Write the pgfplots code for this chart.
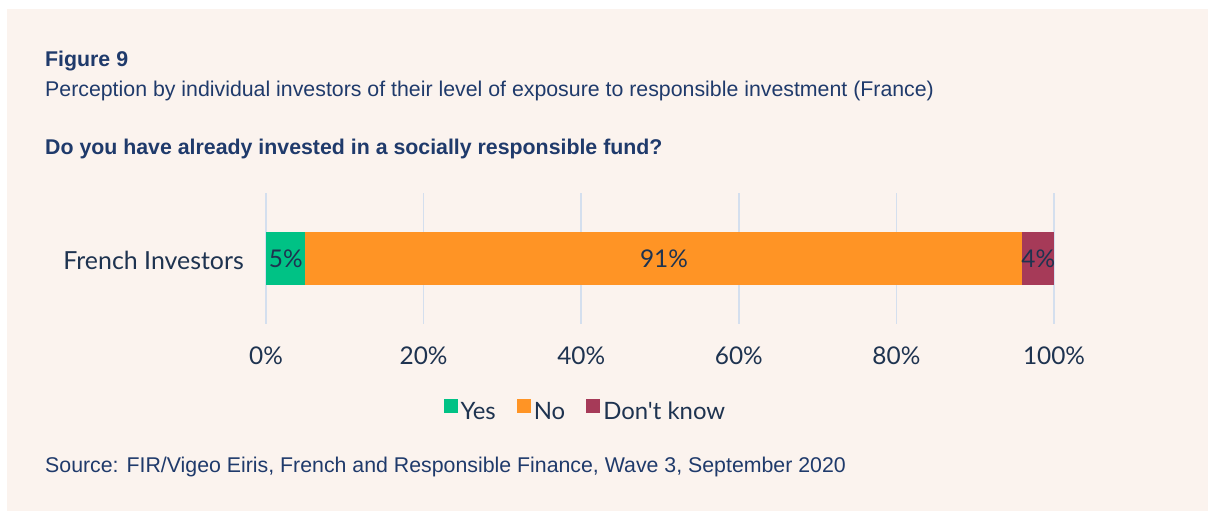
\documentclass[border=0pt]{standalone}
\usepackage{pgfplots}
\pgfplotsset{compat=1.18}
\usepackage{pgfplotstable}
\usepackage{fontspec}
\setmainfont{Liberation Sans}
\newfontfamily\chartfont{Lato}

\definecolor{panel}{HTML}{FBF3EE}
\definecolor{headnavy}{HTML}{1F3A6B}
\definecolor{inknavy}{HTML}{1E3350}
\definecolor{gridblue}{HTML}{D4DFEE}
\definecolor{yesgreen}{HTML}{00C285}
\definecolor{noorange}{HTML}{FF9425}
\definecolor{dkmaroon}{HTML}{A63A58}

% share of individual investors (percent)
\pgfplotstableread{
cat yes no dk
1   5   91 4
}\survey

\begin{document}
\begin{tikzpicture}[x=1bp,y=1bp]
\useasboundingbox (0,0) rectangle (1208,511);
\fill[white] (0,0) rectangle (1208,511);
\fill[panel] (7,0) rectangle (1208,502);

\node[anchor=base west, inner sep=0, text=headnavy,
      font=\bfseries\fontsize{21.4}{24}\selectfont] at (45,444) {Figure 9};
\node[anchor=base west, inner sep=0, text=headnavy,
      font=\fontsize{21.4}{24}\selectfont] at (45,414)
      {Perception by individual investors of their level of exposure to responsible investment (France)};
\node[anchor=base west, inner sep=0, text=headnavy,
      font=\bfseries\fontsize{21.4}{24}\selectfont] at (45,356)
      {Do you have already invested in a socially responsible fund?};
\node[anchor=base west, inner sep=0, text=headnavy,
      font=\fontsize{21.4}{24}\selectfont] at (45,38)
      {Source: FIR/Vigeo Eiris, French and Responsible Finance, Wave 3, September 2020};

\begin{axis}[
  at={(266bp,187bp)}, anchor=south west, scale only axis,
  width=788bp, height=131bp,
  xmin=0, xmax=100, ymin=0, ymax=2,
  xbar stacked, bar width=53bp,
  axis line style={draw=none}, major tick length=0pt,
  xmajorgrids, grid style={gridblue, line width=1.6bp},
  xtick={0,20,...,100},
  xticklabel={\pgfmathprintnumber{\tick}\%},
  /pgf/number format/assume math mode=true,
  xticklabel style={anchor=base, yshift=-41bp, inner sep=0pt,
                    font=\chartfont\fontsize{24.5}{28}\selectfont, text=inknavy},
  ytick={1}, yticklabels={French Investors},
  yticklabel style={anchor=east, inner sep=0pt, xshift=-22bp, yshift=-1.5bp,
                    font=\chartfont\fontsize{25}{28}\selectfont, text=inknavy},
  nodes near coords={\pgfmathprintnumber{\rawv}\%},
  nodes near coords style={anchor=center, inner sep=0pt, text=inknavy,
                           font=\chartfont\fontsize{24.5}{28}\selectfont},
  legend columns=3,
  legend style={at={(0.404,-0.656)}, anchor=center, draw=none, fill=none,
                font=\chartfont\fontsize{24}{26}\selectfont, text=inknavy,
                inner sep=0pt, nodes={inner sep=0pt},
                /tikz/every odd column/.append style={column sep=3bp},
                /tikz/every even column/.append style={column sep=21bp}},
  legend image code/.code={\fill[#1,draw=none] (0bp,-1bp) rectangle (14bp,13bp);},
]
\addplot[fill=yesgreen, draw=none, visualization depends on={\thisrow{yes} \as \rawv}]
  table[x=yes, y=cat] {\survey};
\addlegendentry{Yes}
\addplot[fill=noorange, draw=none, visualization depends on={\thisrow{no} \as \rawv}]
  table[x=no, y=cat] {\survey};
\addlegendentry{No}
\addplot[fill=dkmaroon, draw=none, visualization depends on={\thisrow{dk} \as \rawv}]
  table[x=dk, y=cat] {\survey};
\addlegendentry{Don't know}
\end{axis}
\end{tikzpicture}
\end{document}
